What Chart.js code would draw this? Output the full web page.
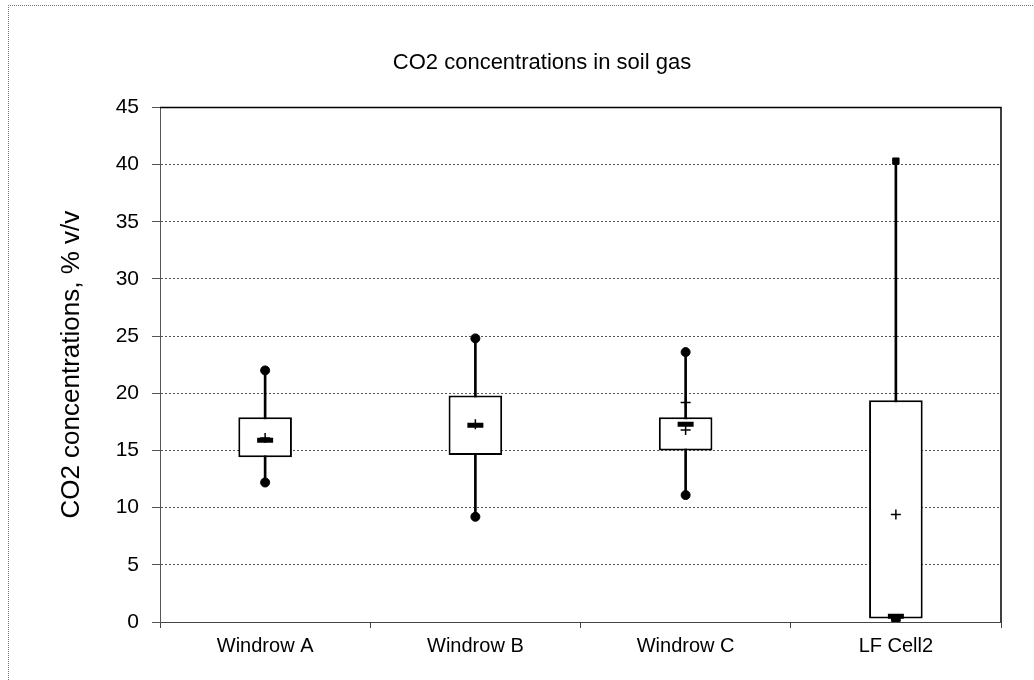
<!DOCTYPE html>
<html>
<head>
<meta charset="utf-8">
<script src="https://cdn.jsdelivr.net/npm/chart.js@4/dist/chart.umd.min.js"></script>
<style>
  html, body { margin: 0; padding: 0; background: #fff; }
  #wrap { position: relative; width: 1034px; height: 680px; }
  #frame { position: absolute; left: 8px; top: 5px; width: 1030px; height: 680px;
           border-top: 1px dotted #777; border-left: 1px dotted #777; }
  canvas { position: absolute; left: 0; top: 0; }
</style>
</head>
<body>
<div id="wrap">
  <div id="frame"></div>
  <canvas id="chart" width="1034" height="680"></canvas>
</div>
<script>
// values (% v/v)
const categories = ["Windrow A", "Windrow B", "Windrow C", "LF Cell2"];
const minVals    = [12.2, 9.2, 11.1, 0.2];
const q1Vals     = [14.4, 14.6, 15.0, 0.3];
const medianVals = [15.9, 17.2, 17.3, 0.5];
const q3Vals     = [17.9, 19.8, 17.9, 19.4];
const maxVals    = [22.0, 24.8, 23.6, 40.3];
const meanVals   = [16.1, 17.3, 16.8, 9.4];
const extraVals  = [null, null, 19.2, null];
const yTicks     = [0, 5, 10, 15, 20, 25, 30, 35, 40, 45];

const FONT = "'Liberation Sans', Arial, sans-serif";

// solid frame on the top and right of the plot area
const frameLines = {
  id: "frameLines",
  afterDraw(chart) {
    const { ctx, chartArea: a } = chart;
    ctx.save();
    ctx.strokeStyle = "#000";
    ctx.lineWidth = 1.5;
    ctx.beginPath();
    ctx.moveTo(a.left, a.top);
    ctx.lineTo(a.right, a.top);
    ctx.lineTo(a.right, a.bottom);
    ctx.stroke();
    ctx.restore();
  }
};

new Chart(document.getElementById("chart"), {
  type: "bar",
  data: {
    labels: categories,
    datasets: [
      {
        // box q1..q3
        data: q1Vals.map((v, i) => [v, q3Vals[i]]),
        backgroundColor: "#fff",
        borderColor: "#000",
        borderWidth: 2,
        borderSkipped: false,
        grouped: false,
        categoryPercentage: 1,
        barPercentage: 0.255,
        order: 2
      },
      {
        // whisker min..max
        data: minVals.map((v, i) => [v, maxVals[i]]),
        backgroundColor: "#000",
        borderWidth: 0,
        grouped: false,
        barThickness: 2,
        order: 3
      },
      {
        type: "line", data: medianVals, showLine: false,
        pointStyle: "line", pointRadius: 8, pointBorderWidth: 5,
        pointBorderColor: "#000", order: 1
      },
      {
        type: "line", data: meanVals, showLine: false,
        pointStyle: "cross", pointRadius: 5, pointBorderWidth: 1.5,
        pointBorderColor: "#000", order: 0
      },
      {
        type: "line", data: extraVals, showLine: false,
        pointStyle: "cross", pointRadius: 5, pointBorderWidth: 1.5,
        pointBorderColor: "#000", order: 0
      },
      {
        type: "line", data: maxVals, showLine: false,
        pointStyle: ["circle", "circle", "circle", "rect"], pointRadius: 4.5,
        pointBackgroundColor: "#000", pointBorderColor: "#000", order: 0
      },
      {
        type: "line", data: minVals, showLine: false,
        pointStyle: "circle", pointRadius: 4.5,
        pointBackgroundColor: "#000", pointBorderColor: "#000", order: 0
      }
    ]
  },
  options: {
    responsive: false,
    animation: false,
    layout: { padding: { left: 83, right: 33, top: 0, bottom: 16 } },
    plugins: {
      legend: { display: false },
      tooltip: { enabled: false },
      title: {
        display: true,
        text: "CO2 concentrations in soil gas",
        color: "#000",
        font: { family: FONT, size: 22, weight: "normal" },
        padding: { top: 50, bottom: 31 }
      }
    },
    scales: {
      x: {
        offset: true,
        grid: { offset: true, drawOnChartArea: false, color: "#444", tickLength: 6 },
        border: { color: "#444", dash: [2, 2] },
        ticks: { color: "#000", font: { family: FONT, size: 20 }, padding: 6 }
      },
      y: {
        min: 0, max: 45,
        afterBuildTicks: (axis) => { axis.ticks = yTicks.map(v => ({ value: v })); },
        afterFit: (axis) => { axis.width = 77; },
        grid: { color: "#555", tickLength: 8, lineWidth: 1 },
        border: { color: "#555", dash: [2, 2] },
        ticks: { color: "#000", font: { family: FONT, size: 21 }, padding: 13 },
        title: {
          display: true,
          text: "CO2 concentrations, % v/v",
          color: "#000",
          font: { family: FONT, size: 26 },
          padding: { top: -27, bottom: 0 }
        }
      }
    }
  },
  plugins: [frameLines]
});
</script>
</body>
</html>
